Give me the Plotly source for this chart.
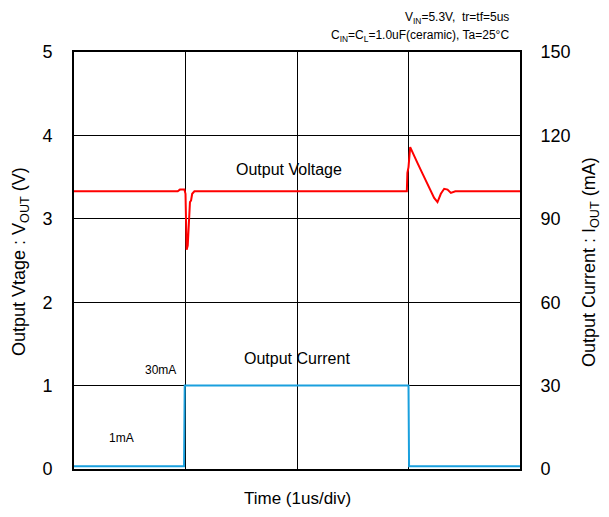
import plotly.graph_objects as go

# Output voltage waveform (time in us, voltage in V)
v_time = [0.0, 0.93, 0.95, 0.99, 1.0, 1.005, 1.01, 1.02, 1.03, 1.04, 1.05, 1.06, 1.08, 1.10,
          2.985, 2.99, 3.0, 3.015, 3.03, 3.08, 3.13, 3.18, 3.23, 3.26, 3.29, 3.32, 3.35, 3.38, 3.42, 4.0]
v_out = [3.33, 3.33, 3.35, 3.35, 3.30, 2.85, 2.63, 2.68, 3.05, 3.20, 3.22, 3.30, 3.33, 3.33,
         3.33, 3.55, 3.62, 3.86, 3.82, 3.67, 3.53, 3.39, 3.25, 3.20, 3.30, 3.36, 3.35, 3.31, 3.33, 3.33]

# Output current waveform (time in us, current in mA)
i_time = [0.0, 0.987, 0.993, 3.0, 3.005, 4.0]
i_out = [1, 1, 30, 30, 1, 1]

left_ticks = [0, 1, 2, 3, 4, 5]
right_ticks = [0, 30, 60, 90, 120, 150]

FONT = "Liberation Sans, Arial, sans-serif"
OFF = 8  # page body margin
W, H = 609 - OFF, 517 - OFF
L, R, T, B = 74 - OFF, 520 - OFF, 52 - OFF, 469 - OFF
pw, ph = R - L, B - T

fig = go.Figure()
fig.add_trace(go.Scatter(x=v_time, y=v_out, mode="lines",
                         line=dict(color="#FF0000", width=2), yaxis="y"))
fig.add_trace(go.Scatter(x=i_time, y=i_out, mode="lines",
                         line=dict(color="#1AA0DE", width=2), yaxis="y2"))

fig.update_layout(
    width=W, height=H,
    margin=dict(l=L, r=W - R, t=T, b=H - B, autoexpand=False),
    paper_bgcolor="white", plot_bgcolor="white",
    showlegend=False,
    font=dict(family=FONT, color="black"),
    xaxis=dict(range=[0, 4], dtick=1, showticklabels=False, showgrid=True,
               gridcolor="black", gridwidth=1, zeroline=False, automargin=False,
               showline=True, linecolor="black", linewidth=2, mirror=True, ticks=""),
    yaxis=dict(range=[0, 5], tickvals=left_ticks, showgrid=True, gridcolor="black",
               gridwidth=1, zeroline=False, showline=True, linecolor="black",
               linewidth=2, mirror=True, ticks="outside", ticklen=16, automargin=False,
               tickcolor="rgba(0,0,0,0)", tickfont=dict(size=18)),
    yaxis2=dict(range=[0, 150], tickvals=right_ticks, overlaying="y", side="right",
                showgrid=False, zeroline=False, showline=False, ticks="outside",
                automargin=False,
                ticklen=16, tickcolor="rgba(0,0,0,0)", tickfont=dict(size=18)),
)

annotations = [
    dict(text="Output Vtage : V<sub>OUT</sub> (V)", x=20, y=262, textangle=-90, size=18),
    dict(text="Output Current : I<sub>OUT</sub> (mA)", x=590, y=262, textangle=-90, size=18),
    dict(text="Time (1us/div)", x=297, y=498, size=17),
    dict(text="Output Voltage", x=289, y=169, size=16),
    dict(text="Output Current", x=297, y=358, size=16),
    dict(text="30mA", x=160, y=370, size=12),
    dict(text="1mA", x=121, y=438, size=12),
]
for a in annotations:
    fig.add_annotation(text=a["text"], x=(a["x"] - OFF - L) / pw, y=(B - (a["y"] - OFF)) / ph,
                       xref="paper", yref="paper", showarrow=False,
                       textangle=a.get("textangle", 0),
                       font=dict(size=a["size"], family=FONT, color="black"),
                       xanchor="center", yanchor="middle")

for txt, yy in [("V<sub>IN</sub>=5.3V,  tr=tf=5us", 18),
                ("C<sub>IN</sub>=C<sub>L</sub>=1.0uF(ceramic), Ta=25°C", 36)]:
    fig.add_annotation(text=txt, x=(511 - OFF - L) / pw, y=(B - (yy - OFF)) / ph,
                       xref="paper", yref="paper", showarrow=False,
                       font=dict(size=12, family=FONT, color="black"),
                       xanchor="right", yanchor="middle")

fig.write_html("out.html")
